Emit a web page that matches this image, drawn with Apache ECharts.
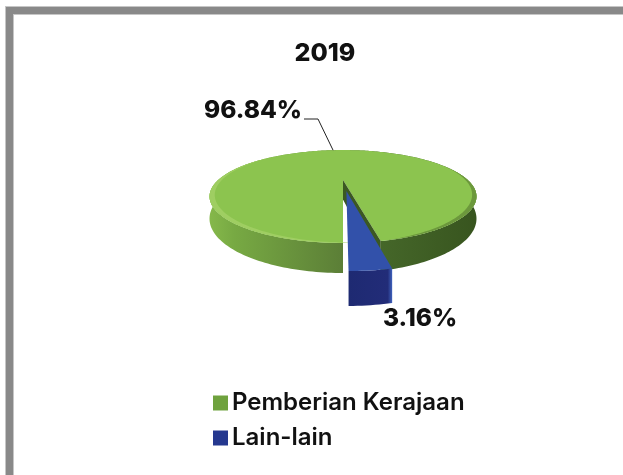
<!DOCTYPE html>
<html><head><meta charset="utf-8">
<style>html,body{margin:0;padding:0;background:#fff}#c{width:623px;height:475px}</style>
<script src="https://cdn.jsdelivr.net/npm/echarts@6/dist/echarts.min.js"></script>
</head><body><div id="c"></div>
<script>
var chartTitle = '2019';
var categories = ['Pemberian Kerajaan', 'Lain-lain'];
var values = [96.84, 3.16];

var FONT = 'Inter, "Open Sans", sans-serif';
var total = values[0] + values[1];
var blueSpan = values[1] / total * Math.PI * 2;

// perspective view of the disc
var CX = 343, CY = 180, R = 124.8, A = 40.6, C = -0.355, D = 19.4, EXPLODE = 0.25;
function proj(u, v, h) {
  var s = 1 / (1 + C * v);
  return [CX + R * u * s, CY + (A * v + D * h) * s];
}
function arc(a0, a1, r, h, ou, ov) {
  var pts = [], n = Math.max(2, Math.ceil(Math.abs(a1 - a0) / 0.02));
  for (var i = 0; i <= n; i++) {
    var t = a0 + (a1 - a0) * i / n;
    pts.push(proj(ou + r * Math.sin(t), ov + r * Math.cos(t), h));
  }
  return pts;
}
// crescent along the rim, tapering to nothing at both ends
function crescent(a0, a1, w) {
  var outer = [], inner = [], n = 80;
  for (var i = 0; i <= n; i++) {
    var f = i / n, t = a0 + (a1 - a0) * f, r = 1 - w * Math.sin(Math.PI * f);
    outer.push(proj(Math.sin(t), Math.cos(t), 0));
    inner.push(proj(r * Math.sin(t), r * Math.cos(t), 0));
  }
  return outer.concat(inner.reverse());
}
function grad(stops) {
  return { type: 'linear', x: 208, y: 0, x2: 475, y2: 0, global: true,
    colorStops: stops.map(function (s) { return { offset: s[0], color: s[1] }; }) };
}
function poly(points, fill) {
  return { type: 'polygon', shape: { points: points }, style: { fill: fill } };
}

function renderGreen() {
  var a0 = blueSpan, a1 = Math.PI * 2, kids = [];
  var top = arc(a0, a1, 1, 0, 0, 0), bot = arc(a0, a1, 1, 1, 0, 0);
  // outer wall
  kids.push(poly(top.concat(bot.slice().reverse()), grad([[0, '#86b94b'], [0.1, '#77a943'], [0.5, '#5c7f37'], [0.62, '#46682a'], [1, '#38551f']])));
  // top face
  kids.push(poly(top.concat([proj(0, 0, 0)]), '#8cc44f'));
  // rim highlights
  kids.push(poly(crescent(Math.PI * 1.25, a1 + 0.1, 0.035), '#9fce62'));
  kids.push(poly(crescent(a0, Math.PI * 0.62, 0.03), '#6c983c'));
  // cut walls
  var c = proj(0, 0, 0), cb = proj(0, 0, 1);
  kids.push(poly([c, top[0], bot[0], cb], '#3b5822'));
  kids.push(poly([c, cb, proj(0, 1, 1), proj(0, 1, 0)], '#4f7030'));
  // leader line and label
  var t = Math.PI + 0.108;
  kids.push({ type: 'polyline', shape: { points: [[304, 119], [318, 119], proj(Math.sin(t), Math.cos(t), 0)] },
    style: { stroke: '#222', lineWidth: 1, fill: null } });
  kids.push({ type: 'text', style: { x: 302, y: 111, text: values[0].toFixed(2) + '%', align: 'right', verticalAlign: 'middle',
    font: '800 24.5px ' + FONT, fill: '#111' } });
  return { type: 'group', children: kids };
}
function renderBlue() {
  var a = blueSpan / 2, ou = EXPLODE * Math.sin(a), ov = EXPLODE * Math.cos(a), kids = [];
  var top = arc(0, blueSpan, 1, 0, ou, ov), bot = arc(0, blueSpan, 1, 1, ou, ov);
  kids.push(poly(top.concat(bot.slice().reverse()), { type: 'linear', x: 0, y: 0, x2: 1, y2: 0,
    colorStops: [{ offset: 0, color: '#1e2a72' }, { offset: 0.9, color: '#222c78' }, { offset: 1, color: '#3f62bd' }] }));
  kids.push(poly(top.concat([proj(ou, ov, 0)]), '#3251aa'));
  kids.push({ type: 'text', style: { x: 383, y: 319, text: values[1].toFixed(2) + '%', align: 'left', verticalAlign: 'middle',
    font: '800 24.5px ' + FONT, fill: '#111' } });
  return { type: 'group', children: kids };
}

var chart = echarts.init(document.getElementById('c'), null, { renderer: 'canvas' });
chart.setOption({
  animation: false,
  backgroundColor: '#fff',
  title: { text: chartTitle, left: 320, top: 36, textAlign: 'center',
    textStyle: { fontFamily: FONT, fontWeight: 800, fontSize: 25, color: '#111' } },
  legend: { orient: 'vertical', left: 208, top: 386, itemWidth: 15, itemHeight: 15, itemGap: 11,
    data: categories, icon: 'rect',
    textStyle: { fontFamily: FONT, fontWeight: 600, fontSize: 24, color: '#111', padding: [0, 0, 0, -1] } },
  graphic: [
    { type: 'rect', silent: true, z: -1, shape: { x: 9.5, y: 10.5, width: 800, height: 700 }, style: { fill: 'none', stroke: '#c6c6c6', lineWidth: 9 } },
    { type: 'rect', silent: true, z: -1, shape: { x: 9.5, y: 10.5, width: 800, height: 700 }, style: { fill: 'none', stroke: '#898989', lineWidth: 7 } }
  ],
  series: [
    { type: 'custom', name: categories[0], coordinateSystem: 'none', data: [values[0]], renderItem: renderGreen, itemStyle: { color: '#6fa23e' } },
    { type: 'custom', name: categories[1], coordinateSystem: 'none', data: [values[1]], renderItem: renderBlue, itemStyle: { color: '#25388f' } }
  ]
});
</script></body></html>
